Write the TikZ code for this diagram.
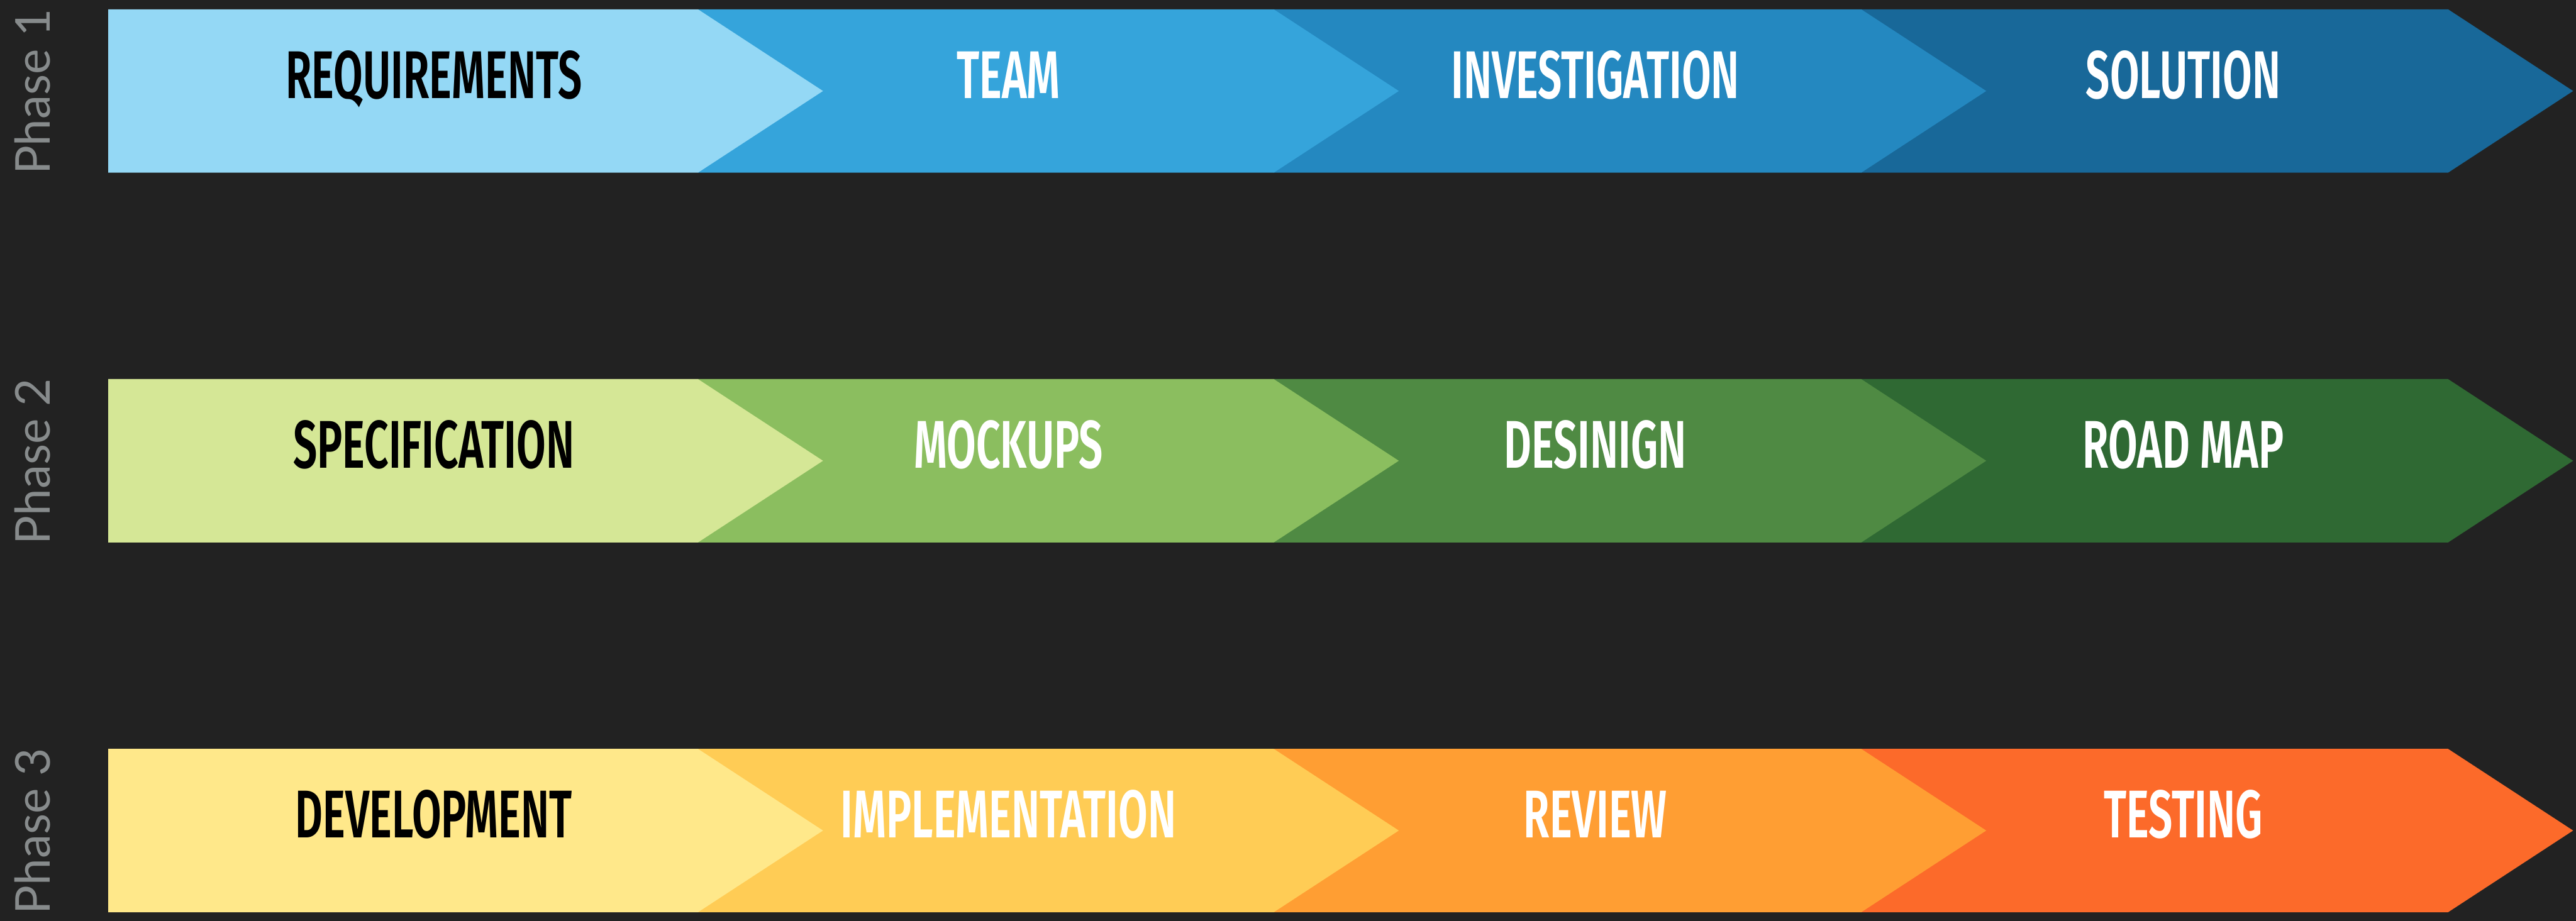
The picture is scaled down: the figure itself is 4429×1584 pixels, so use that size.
\documentclass[tikz,border=0pt]{standalone}
\usepackage{fontspec}
\newfontfamily\labelfont[FakeStretch=0.63, BoldFont={Fira Sans SemiBold}]{Fira Sans}
\newfontfamily\phasefont{Lato}
\definecolor{bg}{HTML}{222222}
\definecolor{phasegray}{HTML}{878B8C}
% row 1 (blue)
\definecolor{bA}{HTML}{94D8F5}
\definecolor{bB}{HTML}{35A4DB}
\definecolor{bC}{HTML}{2488C0}
\definecolor{bD}{HTML}{186899}
% row 2 (green)
\definecolor{gA}{HTML}{D5E796}
\definecolor{gB}{HTML}{8BBE5F}
\definecolor{gC}{HTML}{4F8A43}
\definecolor{gD}{HTML}{2F6933}
% row 3 (orange)
\definecolor{oA}{HTML}{FFE88A}
\definecolor{oB}{HTML}{FFCC55}
\definecolor{oC}{HTML}{FF9E33}
\definecolor{oD}{HTML}{FC6A2A}
\tikzset{
  steplabel/.style={font=\labelfont\bfseries\fontsize{33}{34}\selectfont, anchor=base, inner sep=0pt},
  phaselabel/.style={font=\phasefont\fontsize{23.5}{24}\selectfont, text=phasegray, rotate=90, anchor=base, inner sep=0pt},
}
% #1 left x, #2 right (notch) x, #3 row top, #4 colour
\newcommand{\chevseg}[4]{%
  \fill[#4] (#1,#3) -- (#2,#3) -- ({#2+215},{#3+140.5}) -- (#2,{#3+281}) -- (#1,{#3+281}) -- cycle;}
% #1 row top, #2..#5 colours, #6 phase number, #7..#9 texts
\newcommand{\chevrow}[9]{%
  \chevseg{3200}{4209}{#1}{#5}
  \chevseg{2190}{3200}{#1}{#4}
  \chevseg{1200}{2190}{#1}{#3}
  \chevseg{186}{1200}{#1}{#2}
  \node[phaselabel] (phase#6) at (86,{#1+142}) {Phase #6};
  \node[steplabel, text=black] (s#6a) at (746,{#1+153}) {#7};
  \node[steplabel, text=white] (s#6b) at (1734,{#1+153}) {#8};
  \node[steplabel, text=white] (s#6c) at (2743,{#1+153}) {#9};
}
\begin{document}
\begin{tikzpicture}[x=0.01cm, y=-0.01cm]
  \fill[bg] (0,0) rectangle (4429,1584);
  \useasboundingbox (0,0) rectangle (4429,1584);
  \chevrow{16}{bA}{bB}{bC}{bD}{1}{REQUIREMENTS}{TEAM}{INVESTIGATION}
  \node[steplabel, text=white] (s1d) at (3754,{16+153}) {SOLUTION};
  \chevrow{652}{gA}{gB}{gC}{gD}{2}{SPECIFICATION}{MOCKUPS}{DESINIGN}
  \node[steplabel, text=white] (s2d) at (3754,{652+153}) {ROAD MAP};
  \chevrow{1288}{oA}{oB}{oC}{oD}{3}{DEVELOPMENT}{IMPLEMENTATION}{REVIEW}
  \node[steplabel, text=white] (s3d) at (3754,{1288+153}) {TESTING};
\end{tikzpicture}
\end{document}
